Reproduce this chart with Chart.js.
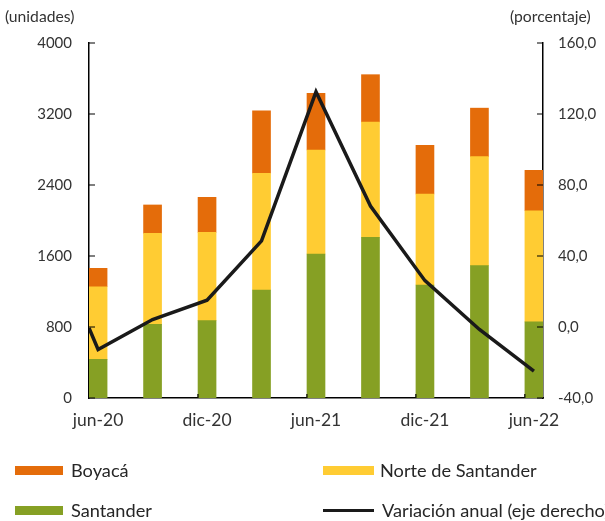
<!DOCTYPE html>
<html>
<head>
<meta charset="utf-8">
<script src="https://cdn.jsdelivr.net/npm/chart.js@4/dist/chart.umd.min.js"></script>
<style>
  html, body { margin: 0; padding: 0; background: #fff; }
  #wrap { position: relative; width: 605px; height: 521px; overflow: hidden;
          font-family: Lato, "Open Sans", sans-serif; color: #333; }
  #grafico { position: absolute; left: 0; top: 0; }
  .titulo { position: absolute; top: 7px; font-size: 15.7px; line-height: 18px; white-space: nowrap; }
  .txt { position: absolute; font-size: 18.2px; line-height: 20px; white-space: nowrap; color: #262626; }
  .sw { position: absolute; }
</style>
</head>
<body>
<div id="wrap">
  <canvas id="grafico" width="605" height="521"></canvas>
  <div class="titulo" style="left:5px">(unidades)</div>
  <div class="titulo" style="left:510px">(porcentaje)</div>

  <div class="sw" style="left:15px; top:466px; width:48px; height:9px; background:#E46C0A"></div>
  <div class="txt" style="left:71px; top:460px">Boyacá</div>
  <div class="sw" style="left:323px; top:466px; width:51px; height:9px; background:#FFCC33"></div>
  <div class="txt" style="left:380px; top:460px">Norte de Santander</div>

  <div class="sw" style="left:15px; top:506px; width:48px; height:9px; background:#86A024"></div>
  <div class="txt" style="left:71px; top:500px">Santander</div>
  <div class="sw" style="left:323px; top:509px; width:51px; height:3px; background:#1A1A1A"></div>
  <div class="txt" style="left:382px; top:500px">Variación anual (eje derecho)</div>
</div>

<script>
// trimestres y meses transcurridos desde jun-20
const periodos = ["jun-20", "sep-20", "dic-20", "mar-21", "jun-21", "sep-21", "dic-21", "mar-22", "jun-22"];
const meses = [0, 3, 6, 9, 12, 15, 18, 21, 24];

// unidades
const santander = [436, 830, 871, 1217, 1623, 1811, 1273, 1491, 857];
const norteSantander = [818, 1026, 996, 1315, 1171, 1299, 1026, 1228, 1253];
const boyaca = [207, 319, 394, 705, 639, 533, 548, 547, 455];

// porcentaje (eje derecho)
const variacionAnual = [-12.7, 4.2, 15.1, 48.5, 132.5, 68.1, 26.1, -1.4, -24.9];
const variacionInicio = -0.5; // el trazo arranca en el borde del eje

const fuente = { family: "Lato, 'Open Sans', sans-serif", size: 15 };
const fuenteX = { family: "Lato, 'Open Sans', sans-serif", size: 17.5 };
const gris = "#333";

function barras(valores) {
  return valores.map((v, i) => ({ x: meses[i] + 0.5, y: v }));
}

const linea = [{ x: 0, y: variacionInicio }].concat(
  variacionAnual.map((v, i) => ({ x: meses[i] + 0.5, y: v }))
);

// marcas de los ejes hacia adentro
const marcasInternas = {
  id: "marcasInternas",
  afterDatasetsDraw(chart) {
    const { ctx, chartArea, scales } = chart;
    ctx.save();
    ctx.strokeStyle = "#000";
    ctx.lineWidth = 1.2;
    ctx.beginPath();
    scales.y.ticks.forEach(t => {
      const py = scales.y.getPixelForValue(t.value);
      ctx.moveTo(chartArea.left, py);
      ctx.lineTo(chartArea.left + 6, py);
    });
    scales.y2.ticks.forEach(t => {
      const py = scales.y2.getPixelForValue(t.value);
      ctx.moveTo(chartArea.right, py);
      ctx.lineTo(chartArea.right - 6, py);
    });
    [6, 12, 18, 24].forEach(m => {
      const px = scales.x.getPixelForValue(m);
      ctx.moveTo(px, chartArea.bottom);
      ctx.lineTo(px, chartArea.bottom - 4);
    });
    ctx.stroke();
    ctx.restore();
  }
};

new Chart(document.getElementById("grafico"), {
  type: "bar",
  data: {
    datasets: [
      { label: "Santander", data: barras(santander), backgroundColor: "#86A024", barThickness: 18, yAxisID: "y", order: 1 },
      { label: "Norte de Santander", data: barras(norteSantander), backgroundColor: "#FFCC33", barThickness: 18, yAxisID: "y", order: 1 },
      { label: "Boyacá", data: barras(boyaca), backgroundColor: "#E46C0A", barThickness: 18, yAxisID: "y", order: 1 },
      {
        type: "line",
        label: "Variación anual (eje derecho)",
        data: linea,
        yAxisID: "y2",
        borderColor: "#1A1A1A",
        borderWidth: 3.5,
        pointRadius: 0,
        tension: 0,
        order: 0
      }
    ]
  },
  options: {
    responsive: false,
    animation: false,
    layout: { padding: { top: 43, left: 0, right: 0, bottom: 0 } },
    plugins: { legend: { display: false }, tooltip: { enabled: false } },
    scales: {
      x: {
        type: "linear",
        min: 0,
        max: 25,
        offset: false,
        stacked: true,
        afterBuildTicks: s => {
          s.ticks = [0, 2, 4, 6, 8].map(i => ({ value: meses[i] + 0.5 }));
        },
        afterFit: s => { s.height = 123; },
        ticks: {
          callback: v => periodos[meses.indexOf(v - 0.5)],
          font: fuenteX,
          color: gris,
          padding: 12,
          maxRotation: 0,
          autoSkip: false
        },
        grid: { display: false, drawTicks: false },
        border: { color: "#000", width: 1.5 }
      },
      y: {
        position: "left",
        stacked: true,
        min: 0,
        max: 4000,
        afterFit: s => { s.width = 89; },
        ticks: { stepSize: 800, callback: v => String(v), font: fuente, color: gris, padding: 17 },
        grid: { display: false, drawTicks: false },
        border: { color: "#000", width: 1.5 }
      },
      y2: {
        position: "right",
        min: -40,
        max: 160,
        afterFit: s => { s.width = 62; },
        ticks: {
          stepSize: 40,
          callback: v => v.toFixed(1).replace(".", ","),
          font: fuente,
          color: gris,
          padding: 15
        },
        grid: { display: false, drawTicks: false },
        border: { color: "#000", width: 1.5 }
      }
    }
  },
  plugins: [marcasInternas]
});
</script>
</body>
</html>
